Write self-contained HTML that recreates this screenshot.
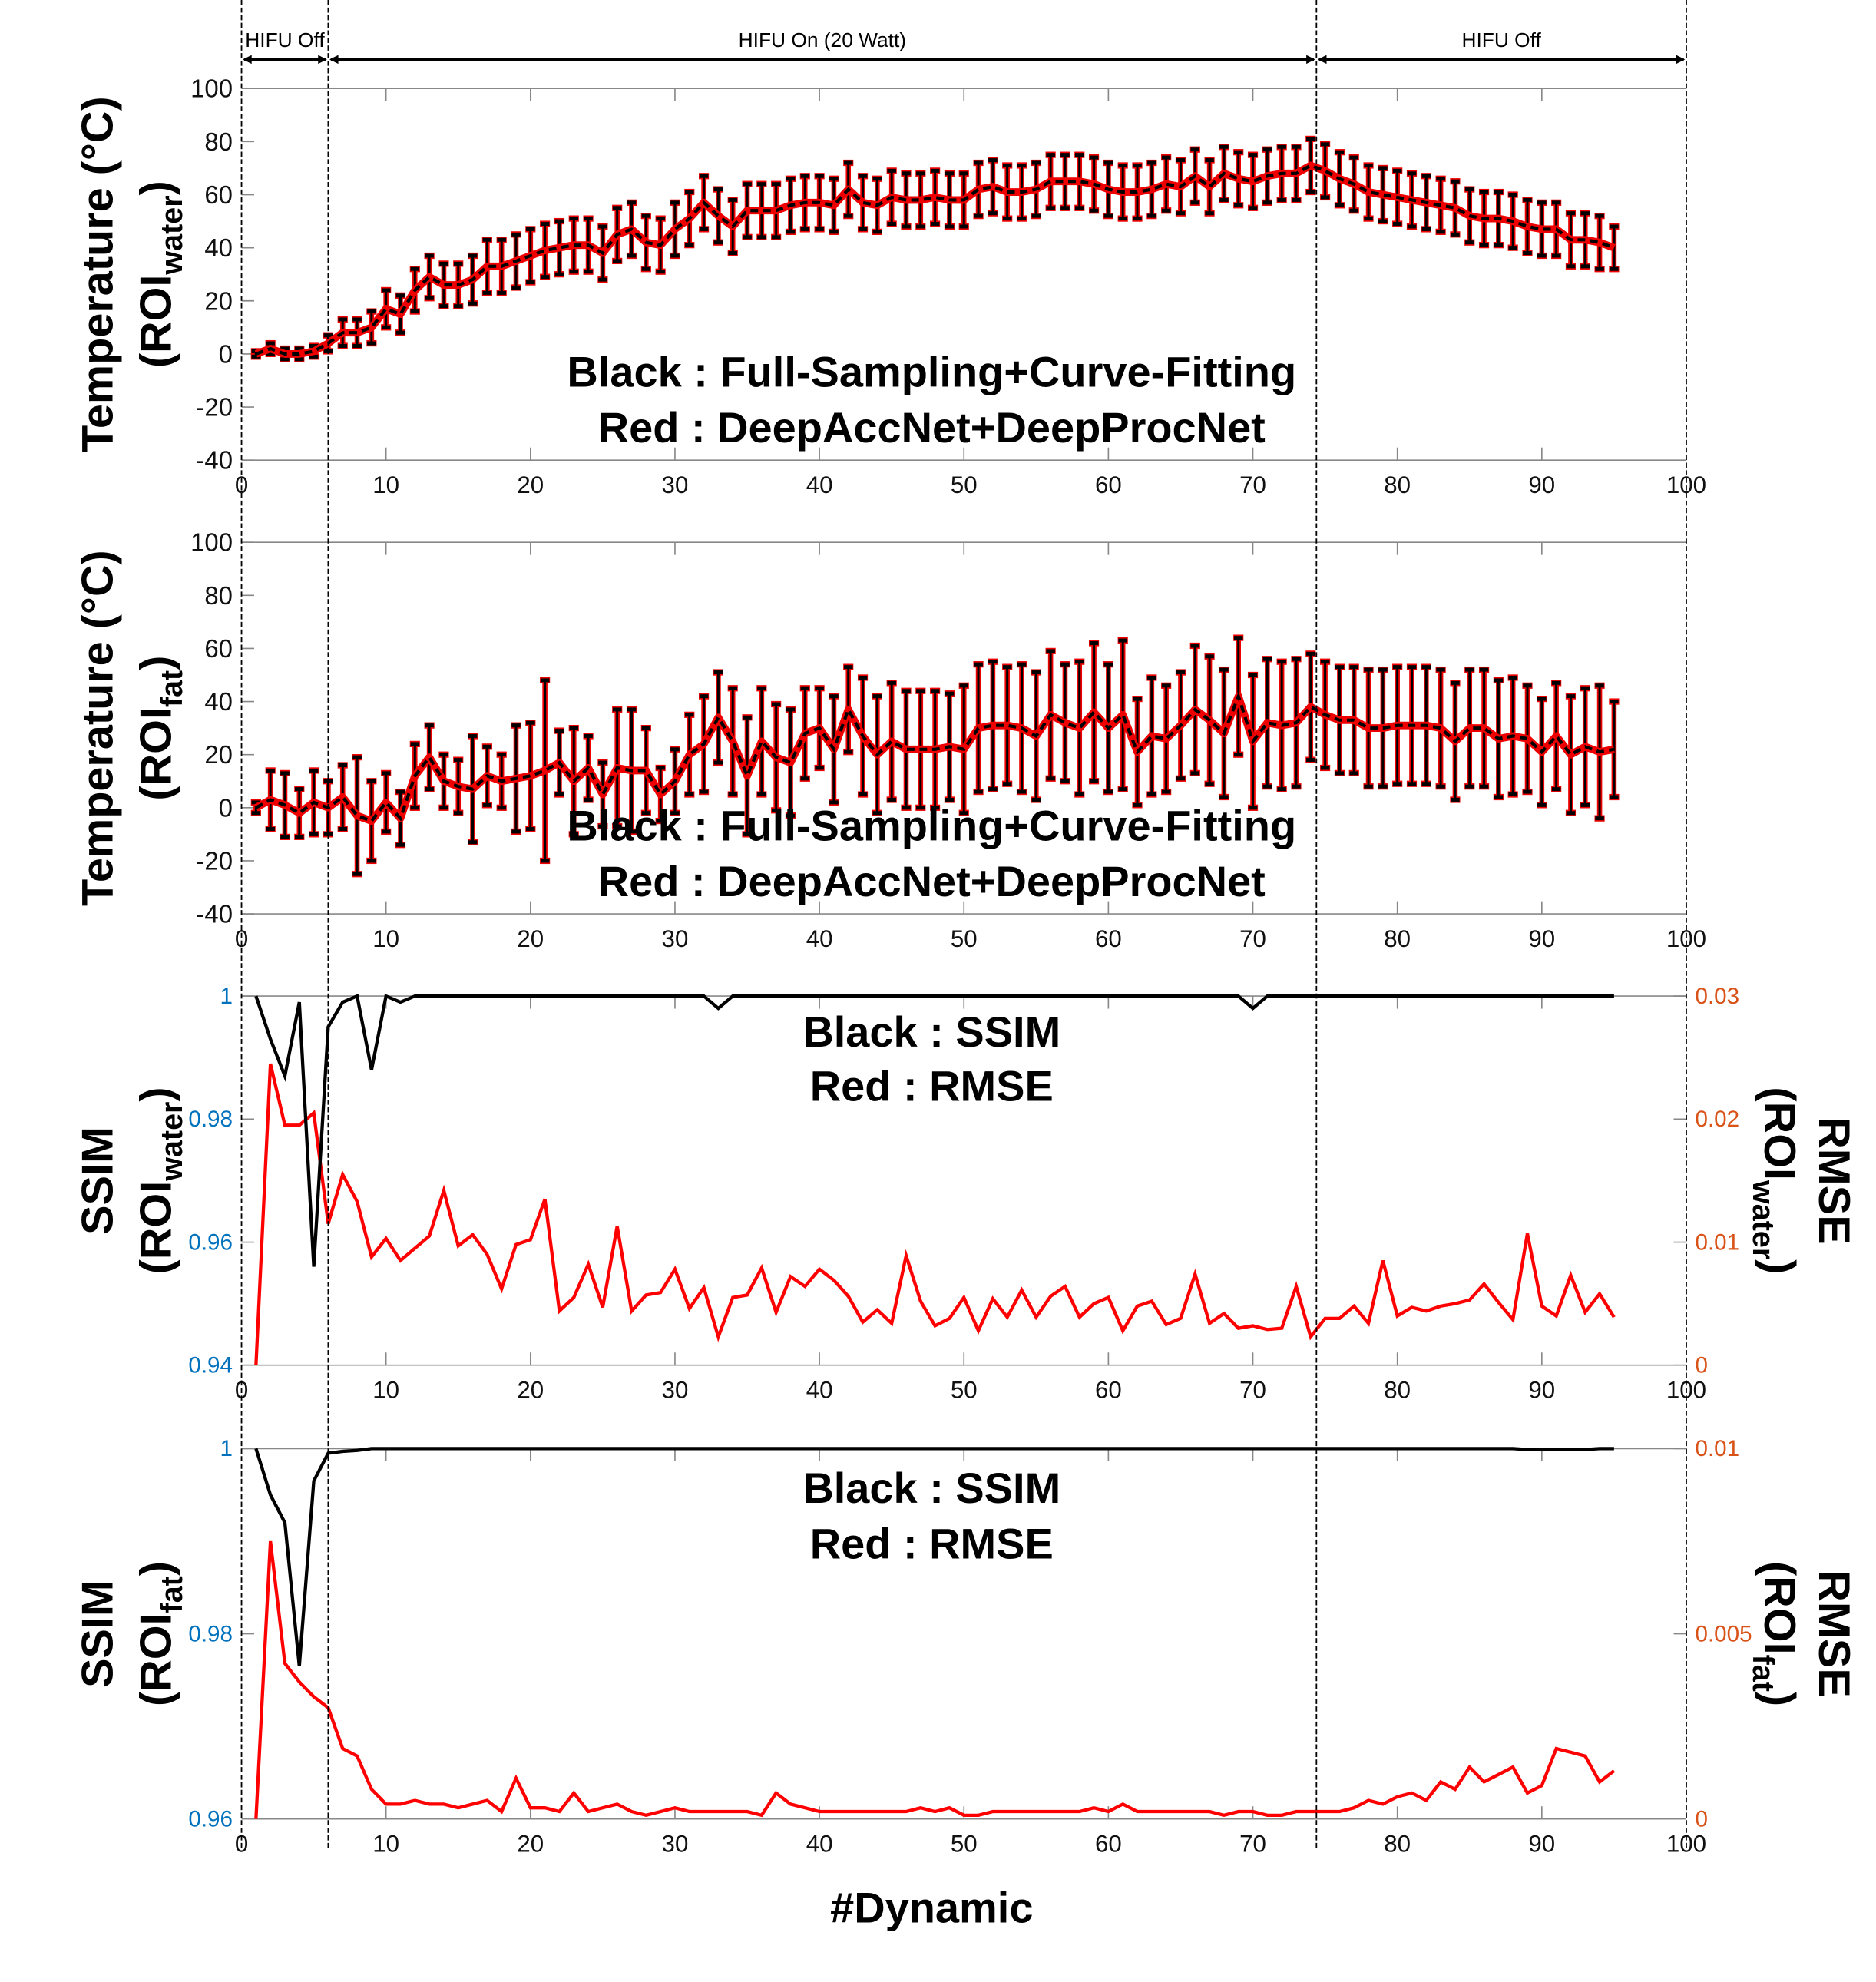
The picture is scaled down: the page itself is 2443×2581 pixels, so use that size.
<!DOCTYPE html>
<html><head><meta charset="utf-8"><style>
html,body{margin:0;padding:0;background:#fff;}
svg{display:block;}
text{font-family:"Liberation Sans",sans-serif;}
.nar{font-family:"Liberation Sans Narrow","Liberation Sans",sans-serif;}
</style></head><body>
<svg id="fig" width="2443" height="2581" viewBox="0 0 1484 1568" xmlns="http://www.w3.org/2000/svg"></svg>
<script>
const xs = Array.from({length:95},(_,i)=>i+1);
const tempWater = [0,2,0,0,1,4,8,8,10,17,15,24,29,26,26,28,33,33,35,37,39,40,41,41,38,45,47,42,41,47,51,57,52,48,54,54,54,56,57,57,56,62,57,56,59,58,58,59,58,58,62,63,61,61,62,65,65,65,64,62,61,61,62,64,63,67,63,68,66,65,67,68,68,71,69,66,64,61,60,59,58,57,56,55,52,51,51,50,48,47,47,43,43,42,40];
const errWater = [1,2,2,2,2,3,5,5,6,7,7,8,8,8,8,9,10,10,10,10,10,10,10,10,10,10,10,10,10,10,10,10,10,10,10,10,10,10,10,10,10,10,10,10,10,10,10,10,10,10,10,10,10,10,10,10,10,10,10,10,10,10,10,10,10,10,10,10,10,10,10,10,10,10,10,10,10,10,10,10,10,10,10,10,10,10,10,10,10,10,10,10,10,10,8];
const tempFat = [0,3,1,-2,2,0,4,-3,-5,2,-4,12,19,10,8,7,12,10,11,12,14,17,10,15,5,15,14,14,5,10,20,24,34,25,12,25,19,17,28,30,22,37,27,20,25,22,22,22,23,22,30,31,31,30,27,35,32,30,36,30,35,21,27,26,31,37,33,28,42,25,32,31,32,38,35,33,33,30,30,31,31,31,30,25,30,30,26,27,26,21,27,20,23,21,22];
const errFat = [2,11,12,9,12,10,12,22,15,11,10,12,12,10,10,20,11,10,20,20,34,12,20,12,12,22,23,16,10,12,15,18,17,20,22,20,20,20,17,15,20,16,22,22,22,22,22,22,20,24,24,24,22,24,24,24,22,25,26,24,28,20,22,20,20,24,24,24,22,25,24,24,24,20,20,20,20,22,22,22,22,22,22,22,22,22,22,22,20,20,20,22,22,25,18];
const ssimWater = [1,0.993,0.987,0.999,0.956,0.995,0.999,1,0.988,1,0.999,1,1,1,1,1,1,1,1,1,1,1,1,1,1,1,1,1,1,1,1,1,0.998,1,1,1,1,1,1,1,1,1,1,1,1,1,1,1,1,1,1,1,1,1,1,1,1,1,1,1,1,1,1,1,1,1,1,1,1,0.998,1,1,1,1,1,1,1,1,1,1,1,1,1,1,1,1,1,1,1,1,1,1,1,1,1];
const rmseWater = [0,0.0245,0.0195,0.0195,0.0205,0.0115,0.0155,0.0133,0.0088,0.0103,0.0085,0.0095,0.0105,0.0142,0.0097,0.0106,0.009,0.0062,0.0098,0.0102,0.0135,0.0044,0.0055,0.0082,0.0047,0.0113,0.0044,0.0057,0.0059,0.0078,0.0046,0.0063,0.0023,0.0055,0.0057,0.0079,0.0043,0.0072,0.0064,0.0078,0.0069,0.0056,0.0035,0.0045,0.0034,0.0089,0.0052,0.0032,0.0038,0.0055,0.0028,0.0054,0.0039,0.0061,0.0039,0.0056,0.0064,0.0039,0.005,0.0055,0.0028,0.0048,0.0052,0.0033,0.0038,0.0074,0.0034,0.0042,0.003,0.0032,0.0029,0.003,0.0064,0.0023,0.0038,0.0038,0.0048,0.0034,0.0085,0.004,0.0047,0.0044,0.0048,0.005,0.0053,0.0066,0.0051,0.0037,0.0107,0.0048,0.004,0.0073,0.0043,0.0058,0.0039];
const ssimFat = [1,0.995,0.992,0.9765,0.9965,0.9995,0.9997,0.9998,1,1,1,1,1,1,1,1,1,1,1,1,1,1,1,1,1,1,1,1,1,1,1,1,1,1,1,1,1,1,1,1,1,1,1,1,1,1,1,1,1,1,1,1,1,1,1,1,1,1,1,1,1,1,1,1,1,1,1,1,1,1,1,1,1,1,1,1,1,1,1,1,1,1,1,1,1,1,1,1,0.9999,0.9999,0.9999,0.9999,0.9999,1,1];
const rmseFat = [0,0.0075,0.0042,0.0037,0.0033,0.003,0.0019,0.0017,0.0008,0.0004,0.0004,0.0005,0.0004,0.0004,0.0003,0.0004,0.0005,0.0002,0.0011,0.0003,0.0003,0.0002,0.0007,0.0002,0.0003,0.0004,0.0002,0.0001,0.0002,0.0003,0.0002,0.0002,0.0002,0.0002,0.0002,0.0001,0.0007,0.0004,0.0003,0.0002,0.0002,0.0002,0.0002,0.0002,0.0002,0.0002,0.0003,0.0002,0.0003,0.0001,0.0001,0.0002,0.0002,0.0002,0.0002,0.0002,0.0002,0.0002,0.0003,0.0002,0.0004,0.0002,0.0002,0.0002,0.0002,0.0002,0.0002,0.0001,0.0002,0.0002,0.0001,0.0001,0.0002,0.0002,0.0002,0.0002,0.0003,0.0005,0.0004,0.0006,0.0007,0.0005,0.001,0.0008,0.0014,0.001,0.0012,0.0014,0.0007,0.0009,0.0019,0.0018,0.0017,0.001,0.0013];
const xTicks = [0,10,20,30,40,50,60,70,80,90,100];
const tempTicks = [100,80,60,40,20,0,-20,-40];
const phaseBounds = [0,6,74.4,100];
const phaseLabels = ["HIFU Off","HIFU On (20 Watt)","HIFU Off"];

const NS="http://www.w3.org/2000/svg";
const svg=document.getElementById('fig');
function el(tag,attrs,parent){const e=document.createElementNS(NS,tag);for(const k in attrs)e.setAttribute(k,attrs[k]);(parent||svg).appendChild(e);return e;}
const X0=191,X1=1334;
const xS=v=>X0+(v/100)*(X1-X0);
function lin(d0,d1,p0,p1){return v=>p0+(v-d0)/(d1-d0)*(p1-p0);}

function frame(top,bot,g){
  let e=el('line',{x1:X0,y1:top,x2:X1,y2:top,stroke:'#888','stroke-width':1},g);
  
  
  e=el('line',{x1:X0,y1:bot,x2:X1,y2:bot,stroke:'#888','stroke-width':1},g);
  
  
  xTicks.forEach(t=>{
    if(t===0||t===100)return;
    el('line',{x1:xS(t),y1:bot,x2:xS(t),y2:bot-10,stroke:'#888','stroke-width':1},g);
    el('line',{x1:xS(t),y1:top,x2:xS(t),y2:top+10,stroke:'#888','stroke-width':1},g);
  });
}
function xLabels(y,g,narrow){
  xTicks.forEach(t=>{
    const e=el('text',{x:xS(t),y:y,'text-anchor':'middle','font-size':19,fill:'#111'},g);
    if(narrow)e.setAttribute('class','nar');
    
    
    e.textContent=t;
  });
}
function yTitle(x,cy,main,sub,rot,g,size){
  const t=el('text',{x:0,y:0,'text-anchor':'middle','font-size':size||34,'font-weight':'bold',transform:`translate(${x},${cy}) rotate(${rot})`},g);
  
  
  if(sub){
    const a=el('tspan',{},t);a.textContent='(ROI';
    const b=el('tspan',{dy:9,'font-size':24},t);b.textContent=sub;
    const c=el('tspan',{dy:-9},t);c.textContent=')';
  } else t.textContent=main;
}
function legend(y1,y2,l1,l2,g){
  let e=el('text',{x:737,y:y1,'text-anchor':'middle','font-size':34,'font-weight':'bold'},g);
  
  
  e.textContent=l1;
  e=el('text',{x:737,y:y2,'text-anchor':'middle','font-size':34,'font-weight':'bold'},g);
  
  
  e.textContent=l2;
}

function tempPanel(top,bot,means,errs,name,sub){
  const g=el('g',{});
  
  
  const yS=lin(-40,100,bot,top);
  frame(top,bot,g);
  tempTicks.forEach(t=>{
    el('line',{x1:X0,y1:yS(t),x2:X0+10,y2:yS(t),stroke:'#888'},g);
    const e=el('text',{x:184,y:yS(t)+7,'text-anchor':'end','font-size':20,fill:'#111',class:'nar'},g);
    
    
    e.textContent=t;
  });
  xLabels(bot+26,g,true);
  xs.forEach((x,i)=>{
    const cx=xS(x),yt=yS(means[i]+errs[i]),yb=yS(means[i]-errs[i]);
    const b=el('g',{},g);
    
    
    el('line',{x1:cx,y1:yt,x2:cx,y2:yb,stroke:'#e00','stroke-width':4},b);
    el('line',{x1:cx-4,y1:yt,x2:cx+4,y2:yt,stroke:'#e00','stroke-width':5},b);
    el('line',{x1:cx-4,y1:yb,x2:cx+4,y2:yb,stroke:'#e00','stroke-width':5},b);
    el('line',{x1:cx,y1:yt,x2:cx,y2:yb,stroke:'#000','stroke-width':1.8},b);
    el('line',{x1:cx-3.5,y1:yt,x2:cx+3.5,y2:yt,stroke:'#000','stroke-width':3},b);
    el('line',{x1:cx-3.5,y1:yb,x2:cx+3.5,y2:yb,stroke:'#000','stroke-width':3},b);
  });
  const pts=xs.map((x,i)=>xS(x)+','+yS(means[i])).join(' ');
  let e=el('polyline',{points:pts,fill:'none',stroke:'#e00','stroke-width':6,'stroke-linejoin':'round'},g);
  
  
  e=el('polyline',{points:pts,fill:'none',stroke:'#000','stroke-width':2.5,'stroke-dasharray':'6 4'},g);
  
  
  const cy=(top+bot)/2;
  yTitle(89,cy,'Temperature (°C)',null,-90,g,35);
  yTitle(135,cy,'',sub,-90,g,35);
  return g;
}
const g1=tempPanel(70,364,tempWater,errWater,'panel-temp-water','water');
legend(306,350,'Black : Full-Sampling+Curve-Fitting','Red : DeepAccNet+DeepProcNet',g1);
const g2=tempPanel(429,723,tempFat,errFat,'panel-temp-fat','fat');
legend(665,709,'Black : Full-Sampling+Curve-Fitting','Red : DeepAccNet+DeepProcNet',g2);

function ssimPanel(top,bot,ssim,rmse,sMin,rMax,lTicks,rTicks,name,sub){
  const g=el('g',{});
  
  
  const yL=lin(sMin,1,bot,top), yR=lin(0,rMax,bot,top);
  frame(top,bot,g);
  lTicks.forEach(t=>{
    el('line',{x1:X0,y1:yL(t),x2:X0+10,y2:yL(t),stroke:'#888'},g);
    const e=el('text',{x:184,y:yL(t)+6,'text-anchor':'end','font-size':18,fill:'#0072BD'},g);
    
    
    e.textContent=t;
  });
  rTicks.forEach(t=>{
    el('line',{x1:X1,y1:yR(t),x2:X1-10,y2:yR(t),stroke:'#888'},g);
    const e=el('text',{x:1341,y:yR(t)+6,'text-anchor':'start','font-size':18,fill:'#D95319'},g);
    
    
    e.textContent=t;
  });
  xLabels(bot+26,g,false);
  let e=el('polyline',{points:xs.map((x,i)=>xS(x)+','+yR(rmse[i])).join(' '),fill:'none',stroke:'#f00','stroke-width':2.6},g);
  
  
  e=el('polyline',{points:xs.map((x,i)=>xS(x)+','+yL(ssim[i])).join(' '),fill:'none',stroke:'#000','stroke-width':2.6},g);
  
  
  const cy=(top+bot)/2;
  yTitle(89,cy,'SSIM',null,-90,g,35);
  yTitle(135,cy,'',sub,-90,g,35);
  yTitle(1439,cy,'RMSE',null,90,g,35);
  yTitle(1396,cy,'',sub,90,g,35);
  return g;
}
const g3=ssimPanel(788,1080,ssimWater,rmseWater,0.94,0.03,[1,0.98,0.96,0.94],[0.03,0.02,0.01,0],'panel-ssim-water','water');
legend(828,871,'Black : SSIM','Red : RMSE',g3);
const g4=ssimPanel(1146,1439,ssimFat,rmseFat,0.96,0.01,[1,0.98,0.96],[0.01,0.005,0],'panel-ssim-fat','fat');
legend(1189,1233,'Black : SSIM','Red : RMSE',g4);

let xt=el('text',{x:737,y:1521,'text-anchor':'middle','font-size':34,'font-weight':'bold'});


xt.textContent='#Dynamic';

phaseBounds.forEach(b=>{
  const e=el('line',{x1:xS(b),y1:0,x2:xS(b),y2:1462,stroke:'#000','stroke-width':1.1,'stroke-dasharray':'4 2'});
  
  
});
phaseLabels.forEach((lab,i)=>{
  const a=xS(phaseBounds[i]),b=xS(phaseBounds[i+1]);
  const g=el('g',{});
  
  
  el('line',{x1:a+2,y1:47,x2:b-2,y2:47,stroke:'#000','stroke-width':2},g);
  el('path',{d:`M${a+1},47 l7,-3.5 v7 z M${b-1},47 l-7,-3.5 v7 z`,fill:'#000'},g);
  const t=el('text',{x:(a+b)/2,y:37,'text-anchor':'middle','font-size':16,class:'nar'},g);
  t.textContent=lab;
});
</script>
</body></html>
